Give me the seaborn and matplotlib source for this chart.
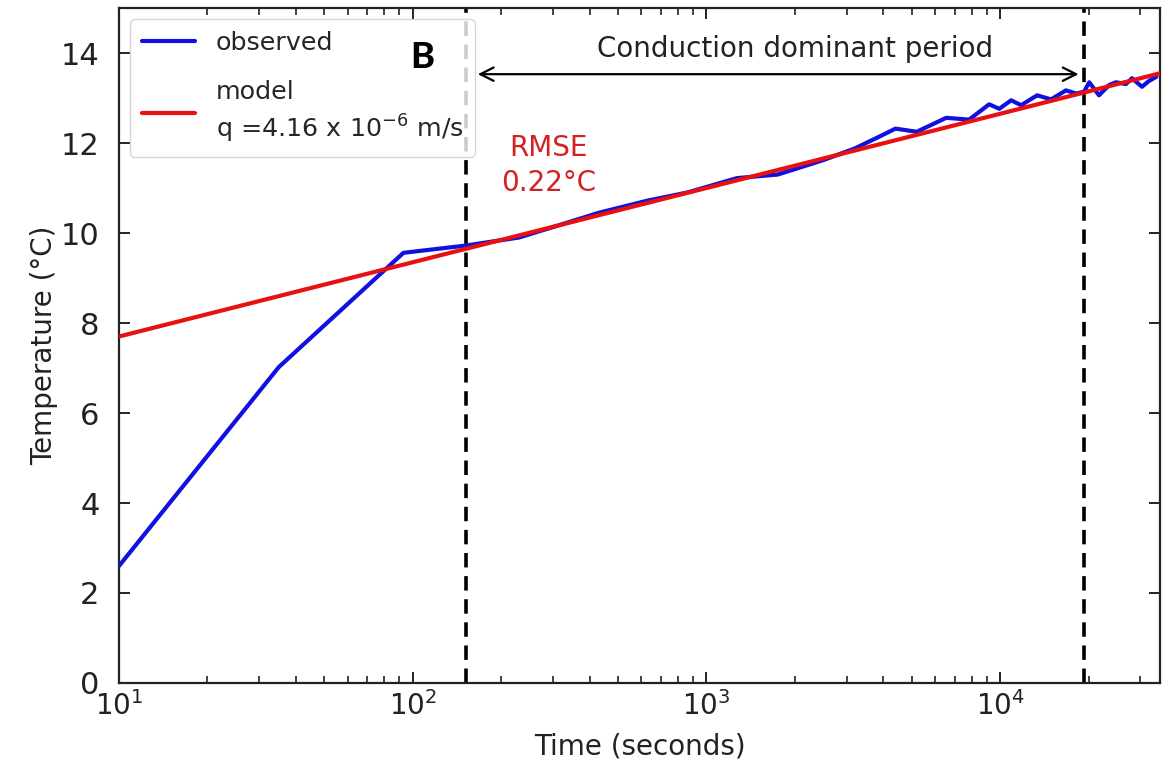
import matplotlib
matplotlib.use("Agg")
import matplotlib.pyplot as plt
import seaborn as sns
import pandas as pd

# Observed temperature response (time in seconds, temperature in °C)
obs_time = [10, 35, 93, 151, 230, 310, 430, 630, 860, 1270, 1750, 2500, 3200,
            3900, 4400, 5200, 6550, 7840, 9170, 9930, 10900, 11780, 13360,
            14900, 16750, 18150, 19300, 20100, 21700, 23500, 24800, 26800,
            28100, 30400, 32100, 34000]
obs_temp = [2.60, 7.02, 9.56, 9.72, 9.90, 10.16, 10.45, 10.72, 10.90, 11.22,
            11.30, 11.62, 11.88, 12.15, 12.32, 12.25, 12.56, 12.52, 12.86,
            12.76, 12.95, 12.84, 13.06, 12.97, 13.17, 13.10, 13.14, 13.35,
            13.06, 13.29, 13.35, 13.31, 13.44, 13.25, 13.38, 13.47]

# Conduction model fit
model_time = [10, 100, 1000, 10000, 35000]
model_temp = [7.70, 9.35, 11.00, 12.65, 13.55]

# Start and end of the conduction dominant period
period_start = 152
period_end = 19300

x_label = "Time (seconds)"
y_label = "Temperature (°C)"
obs_label = "observed"
model_label = "model\nq =4.16 x 10$^{-6}$ m/s"
panel_label = "B"
period_text = "Conduction dominant period"
rmse_text = "RMSE\n0.22°C"

sns.set_style("ticks")
plt.rcParams["font.family"] = ["DejaVu Sans"]

fig, ax = plt.subplots(figsize=(11.71, 7.65), dpi=100)
fig.subplots_adjust(left=0.1016, right=0.9906, top=0.9895, bottom=0.1072)

obs_df = pd.DataFrame({"time": obs_time, "temp": obs_temp})
model_df = pd.DataFrame({"time": model_time, "temp": model_temp})

sns.lineplot(data=obs_df, x="time", y="temp", ax=ax, color="#1010e0",
             lw=3.0, label=obs_label, zorder=3)
sns.lineplot(data=model_df, x="time", y="temp", ax=ax, color="#e81010",
             lw=3.0, label=model_label, zorder=4)

ax.set_xscale("log")
ax.set_xlim(10, 35000)
ax.set_ylim(0, 15)
ax.set_yticks(range(0, 15, 2))

for xv in (period_start, period_end):
    ax.axvline(xv, color="black", lw=2.6, ls=(0, (4, 2.4)), zorder=2)

ax.annotate("", xy=(18900, 13.53), xytext=(163, 13.53),
            arrowprops=dict(arrowstyle="<->", color="black", lw=1.6,
                            mutation_scale=24))
ax.text(2000, 14.1, period_text, ha="center", va="center", fontsize=20,
        color="#222222")
ax.text(290, 11.5, rmse_text, ha="center", va="center", fontsize=20,
        color="#d42020", linespacing=1.3)

ax.set_xlabel(x_label, fontsize=20, color="#222222", labelpad=8)
ax.set_ylabel(y_label, fontsize=20, color="#222222", labelpad=2)

ax.tick_params(axis="both", which="both", direction="in", top=True,
               right=True, colors="#222222")
ax.tick_params(axis="both", which="major", length=8, width=1.4)
ax.tick_params(axis="x", which="minor", length=5, width=1.2)
ax.tick_params(axis="x", which="major", pad=6, labelsize=20)
ax.tick_params(axis="y", which="major", pad=14, labelsize=22)
for sp in ax.spines.values():
    sp.set_linewidth(1.6)
    sp.set_color("#222222")

leg = ax.legend(loc="upper left", fontsize=18.3, frameon=True, framealpha=0.8,
                handlelength=2.1, borderaxespad=0.45, labelspacing=1.0,
                borderpad=0.45)
leg.set_zorder(5)
for line in leg.get_lines():
    line.set_linewidth(3.0)
for txt in leg.get_texts():
    txt.set_linespacing(1.35)

ax.text(0.291, 0.927, panel_label, transform=ax.transAxes, ha="center",
        va="center", fontsize=26, fontweight="black", family="Lato",
        color="black", zorder=6)

fig.savefig("out.png", dpi=100)
